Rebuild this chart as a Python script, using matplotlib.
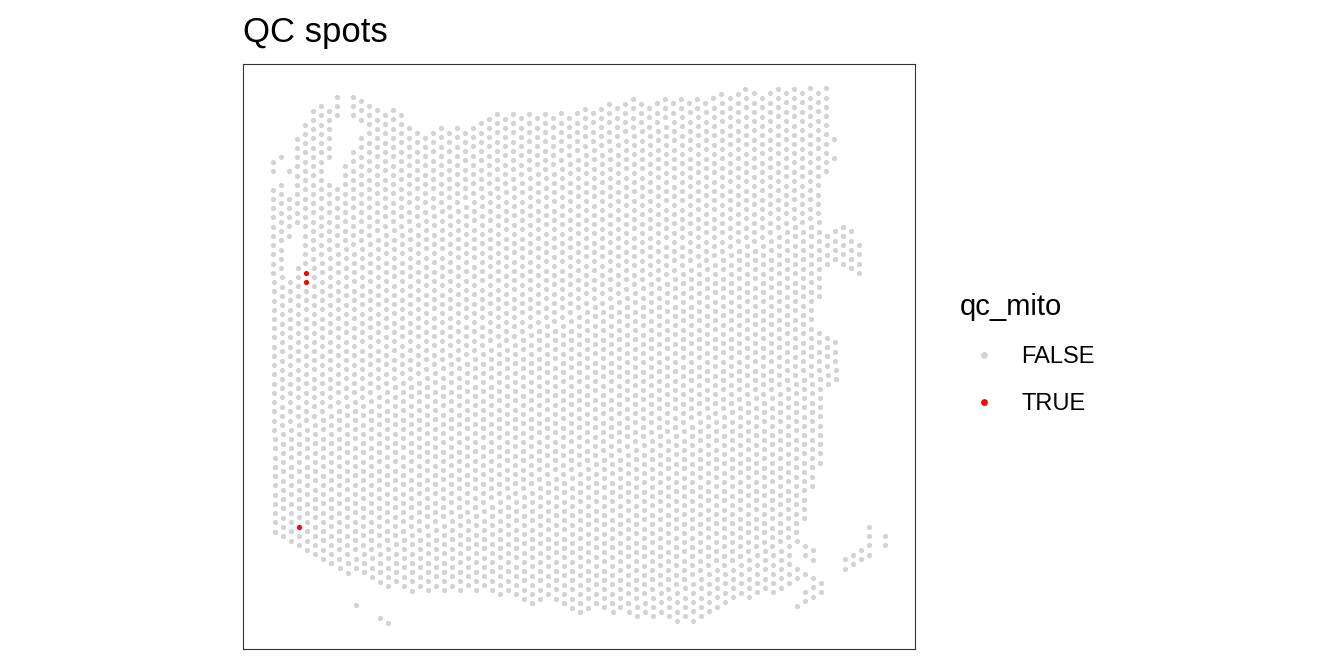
import matplotlib
matplotlib.use("Agg")
import matplotlib.pyplot as plt
from matplotlib.lines import Line2D
import numpy as np

plt.rcParams["font.family"] = ["Liberation Sans", "DejaVu Sans"]

# tissue spots on the hex capture grid: for each array column, runs of
# occupied array rows (first, last); rows inside a run step by 2
seg_col = [0, 0, 1, 1, 2, 2, 2, 3, 3, 4, 5, 6, 7, 7, 8, 8, 9, 10, 10, 10,
           11, 11, 12, 13, 13, 14, 14, 15, 16, 17, 18, 19, 20, 21, 22, 23,
           24, 25, 26, 27, 28, 29, 30, 31, 32, 33, 34, 35, 36, 37, 38, 39,
           40, 41, 42, 43, 44, 45, 46, 47, 48, 49, 50, 51, 52, 53, 54, 55,
           56, 57, 58, 59, 60, 61, 62, 63, 64, 65, 65, 65, 66, 66, 66, 66,
           67, 67, 67, 68, 68, 68, 69, 69, 69, 70, 70, 70, 70, 71, 71, 72,
           72, 73, 73, 74, 76]
seg_first = [16, 22, 15, 21, 18, 24, 42, 11, 39, 8, 5, 4, 5, 21, 2, 22, 17,
             2, 14, 112, 3, 11, 4, 5, 115, 6, 116, 5, 6, 9, 10, 11, 10, 9,
             10, 9, 10, 9, 8, 7, 6, 7, 6, 7, 6, 7, 6, 7, 6, 7, 6, 5, 6, 5,
             4, 5, 4, 3, 4, 5, 4, 3, 4, 3, 4, 3, 4, 3, 2, 3, 2, 1, 2, 3, 2,
             1, 2, 1, 105, 113, 2, 100, 106, 110, 1, 101, 107, 2, 54, 108,
             1, 33, 55, 12, 16, 32, 56, 31, 103, 32, 102, 35, 101, 96, 98]
seg_last = [18, 96, 15, 97, 18, 32, 98, 29, 99, 100, 101, 102, 15, 103, 6,
            104, 105, 6, 104, 112, 7, 105, 106, 107, 115, 108, 116, 107,
            108, 109, 108, 109, 108, 109, 108, 109, 108, 109, 108, 109, 110,
            109, 110, 111, 112, 111, 110, 111, 112, 113, 114, 113, 112, 113,
            114, 113, 114, 115, 114, 115, 114, 115, 116, 115, 116, 115, 114,
            113, 112, 111, 110, 111, 110, 109, 110, 109, 108, 99, 107, 113,
            94, 102, 106, 112, 87, 103, 111, 46, 82, 110, 19, 39, 65, 12, 16,
            38, 64, 39, 105, 40, 104, 41, 103, 102, 100]

# spots flagged by the mitochondrial QC
true_col = [4, 4, 3]
true_row = [40, 42, 95]

legend_labels = ["FALSE", "TRUE"]
legend_colors = ["#D3D3D3", "#FF0000"]

spots = []
for c, a, b in zip(seg_col, seg_first, seg_last):
    for r in range(a, b + 1, 2):
        spots.append((c, r))
spot_col, spot_row = np.array(spots, dtype=float).T

flagged = set(zip(true_col, true_row))
is_true = np.array([(int(c), int(r)) in flagged for c, r in zip(spot_col, spot_row)])

# the image is very slightly tilted against the array grid
x = spot_col + 0.0037 * (spot_row - 24)
y = spot_row - 0.0135 * spot_col

fig = plt.figure(figsize=(13.44, 6.72), dpi=100)
ax = fig.add_axes([243 / 1344, 1 - 649 / 672, 672 / 1344, 585 / 672])

ax.scatter(x[~is_true], y[~is_true], s=14, c=legend_colors[0], linewidths=0)
ax.scatter(x[is_true], y[is_true], s=14, c=legend_colors[1], linewidths=0)

ax.set_xlim(-3.74, 80.05)
ax.set_ylim(121.43, -5.19)
ax.set_xticks([])
ax.set_yticks([])
for sp in ax.spines.values():
    sp.set_color("#333333")
    sp.set_linewidth(0.8)

ax.set_title("QC spots", loc="left", fontsize=25, pad=16)

handles = [Line2D([], [], marker="o", ls="", color=c, markersize=3.9)
           for c in legend_colors]
fig.legend(handles, legend_labels, title="qc_mito", loc="upper left",
           bbox_to_anchor=(960 / 1344, 1 - 293 / 672), frameon=False,
           fontsize=17, title_fontsize=21, borderpad=0, borderaxespad=0,
           labelspacing=1.06, handletextpad=0.6, handlelength=2.0,
           alignment="left")

fig.savefig("out.png", dpi=100, facecolor="white")
